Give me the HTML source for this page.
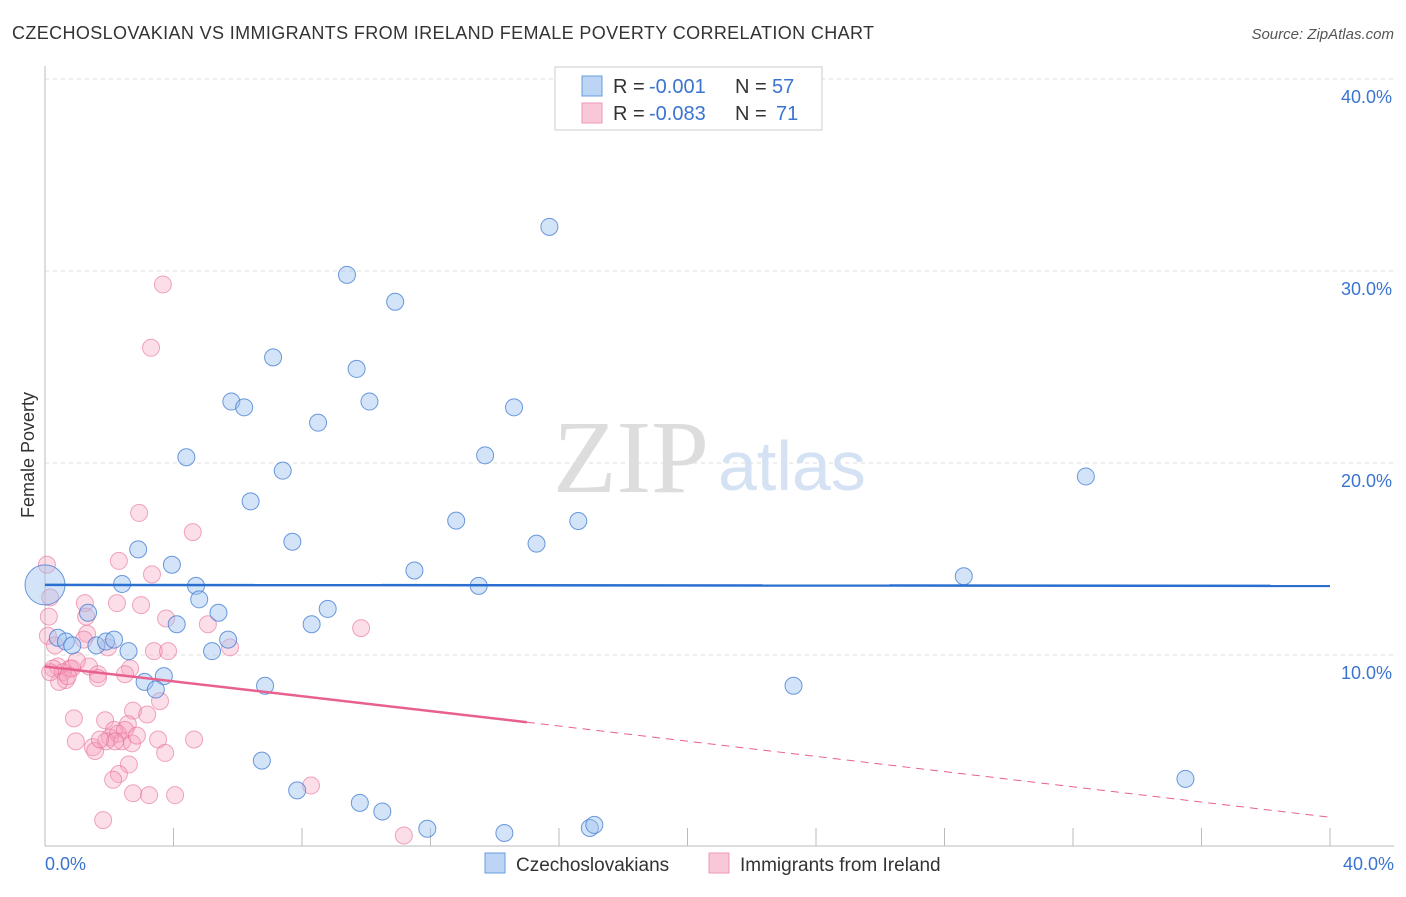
<!DOCTYPE html>
<html><head><meta charset="utf-8"><style>
body{margin:0;background:#fff;font-family:"Liberation Sans",sans-serif;}
</style></head><body>
<svg width="1406" height="892" xmlns="http://www.w3.org/2000/svg">
<text x="12" y="39" font-size="18" fill="#333" textLength="862">CZECHOSLOVAKIAN VS IMMIGRANTS FROM IRELAND FEMALE POVERTY CORRELATION CHART</text>
<text x="1394" y="39" font-size="15" fill="#555" font-style="italic" text-anchor="end">Source: ZipAtlas.com</text>
<g id="grid"></g>
<text x="553" y="492" font-size="104" fill="#ddd" font-family="Liberation Serif,serif">ZIP</text>
<text x="718" y="490" font-size="70" fill="#d4e2f4">atlas</text>
<g id="pts"></g>
<g id="lines"></g>
<text x="34" y="455" font-size="18" fill="#333" transform="rotate(-90 34 455)" text-anchor="middle">Female Poverty</text>
<text x="45" y="870" font-size="18" fill="#3a74d0">0.0%</text>
<text x="1394" y="870" font-size="18" fill="#3a74d0" text-anchor="end">40.0%</text>
<g>
<rect x="555" y="67" width="267" height="63" fill="#fff" stroke="#ccc"/>
<rect x="582" y="76" width="20" height="20" fill="#bcd5f5" stroke="#6a9be0"/>
<rect x="582" y="103" width="20" height="20" fill="#f9c8d8" stroke="#ee99b5"/>
<text x="613" y="93" font-size="20" fill="#333">R =</text>
<text x="649" y="93" font-size="20" fill="#3a74d0">-0.001</text>
<text x="735" y="93" font-size="20" fill="#333">N =</text>
<text x="772" y="93" font-size="20" fill="#3a74d0">57</text>
<text x="613" y="120" font-size="20" fill="#333">R =</text>
<text x="649" y="120" font-size="20" fill="#3a74d0">-0.083</text>
<text x="735" y="120" font-size="20" fill="#333">N =</text>
<text x="776" y="120" font-size="20" fill="#3a74d0">71</text>
</g>
<g>
<rect x="485" y="853" width="20" height="20" fill="#bcd5f5" stroke="#6a9be0"/>
<text x="516" y="871" font-size="19" fill="#333">Czechoslovakians</text>
<rect x="709" y="853" width="20" height="20" fill="#f9c8d8" stroke="#ee99b5"/>
<text x="740" y="871" font-size="19" fill="#333">Immigrants from Ireland</text>
</g>
</svg>
<script>
const yTicks=[10,20,30,40];
const xTickCount=10;
const blueX=[15.7,9.4,10.9,7.1,9.7,5.8,6.2,10.1,14.6,8.5,4.4,13.7,7.4,6.4,12.8,16.6,7.7,15.3,2.9,3.95,11.5,28.6,2.4,4.7,13.5,4.8,8.8,5.4,8.3,4.1,0.4,0.65,0.85,1.6,1.9,2.15,5.7,2.6,5.2,3.1,3.7,3.45,6.85,23.3,32.4,6.75,7.85,9.8,10.5,11.9,14.3,16.96,17.1,35.5,0,1.34];
const blueY=[32.3,29.8,28.4,25.5,24.9,23.2,22.9,23.2,22.9,22.1,20.3,20.4,19.6,18.0,17.0,16.98,15.9,15.8,15.5,14.7,14.4,14.1,13.7,13.6,13.6,12.9,12.4,12.2,11.6,11.6,10.9,10.7,10.5,10.5,10.7,10.8,10.8,10.2,10.2,8.6,8.9,8.2,8.4,8.4,19.3,4.5,2.95,2.3,1.85,0.95,0.73,0.99,1.15,3.55,13.65,12.2];
const pinkX=[3.67,3.3,2.93,4.6,2.3,3.33,0.06,0.16,2.24,2.99,1.24,3.77,5.07,9.84,0.12,0.09,1.28,1.31,0.31,1.21,1.96,3.39,3.83,5.76,0.4,0.25,0.78,1.37,2.65,1.65,0.56,0.65,0.44,1.65,2.49,0.84,0.99,0.71,3.58,2.74,1.87,0.9,0.96,2.58,3.18,2.15,2.02,2.27,2.49,1.49,1.56,1.9,2.4,2.71,2.86,3.52,4.64,3.74,2.61,2.3,2.12,2.74,3.24,4.05,8.28,1.81,11.17,2.18,1.71,0.16];
const pinkY=[29.3,26.0,17.4,16.4,14.9,14.2,14.7,13.0,12.7,12.6,12.7,11.9,11.6,11.4,12.0,11.0,12.0,11.1,10.5,10.8,10.4,10.2,10.2,10.4,9.4,9.3,9.3,9.4,9.3,9.0,9.1,8.7,8.6,8.8,9.0,9.3,9.7,8.9,7.6,7.1,6.6,6.7,5.5,6.4,6.9,6.1,5.7,5.9,6.1,5.2,5.0,5.5,5.5,5.4,5.8,5.6,5.6,4.9,4.3,3.8,3.5,2.8,2.7,2.7,3.2,1.4,0.6,5.5,5.6,9.1];
const blueLine=[13.65,13.6];
const pinkLine=[9.4,6.5,1.55];
const pinkSolidEnd=15;
const NS='http://www.w3.org/2000/svg';
const xs=v=>45+v*32.125, ys=v=>847-v*19.2;
const grid=document.getElementById('grid');
function mk(tag,attrs,parent){const e=document.createElementNS(NS,tag);for(const k in attrs)e.setAttribute(k,attrs[k]);parent.appendChild(e);return e;}
mk('line',{x1:45,y1:66,x2:45,y2:846,stroke:'#bbb'},grid);
mk('line',{x1:45,y1:846,x2:1394,y2:846,stroke:'#bbb'},grid);
yTicks.forEach(t=>{
 const l=mk('line',{x1:45,x2:1394,y1:ys(t),y2:ys(t),stroke:'#ddd','stroke-dasharray':'4,4'},grid);
 
 
 const tx=mk('text',{x:1392,y:ys(t)+24,'font-size':18,fill:'#3a74d0','text-anchor':'end'},grid);
 tx.textContent=t.toFixed(1)+'%';
 
 
});
for(let i=1;i<=xTickCount;i++){
 const t=mk('line',{x1:xs(i*4),x2:xs(i*4),y1:828,y2:846,stroke:'#bbb'},grid);
 
 
}
const pts=document.getElementById('pts');
pinkX.forEach((x,i)=>{
 const c=mk('circle',{cx:xs(x),cy:ys(pinkY[i]),r:8.5,fill:'rgba(245,160,190,0.35)',stroke:'rgba(230,110,150,0.6)','stroke-width':1},pts);
 
 
});
blueX.forEach((x,i)=>{
 const big=(x===0);
 const c=mk('circle',{cx:xs(x),cy:ys(blueY[i]),r:big?20:8.5,fill:'rgba(160,195,240,0.45)',stroke:'rgba(60,120,210,0.75)','stroke-width':1},pts);
 
 
});
const lines=document.getElementById('lines');
const bl=mk('line',{x1:xs(0),y1:ys(blueLine[0]),x2:xs(40),y2:ys(blueLine[1]),stroke:'#2a6fd0','stroke-width':2.5},lines);


const pl=mk('line',{x1:xs(0),y1:ys(pinkLine[0]),x2:xs(pinkSolidEnd),y2:ys(pinkLine[1]),stroke:'#e8608e','stroke-width':2.5},lines);


const pd=mk('line',{x1:xs(pinkSolidEnd),y1:ys(pinkLine[1]),x2:xs(40),y2:ys(pinkLine[2]),stroke:'#e8608e','stroke-width':1,'stroke-dasharray':'8,6'},lines);


</script>
</body></html>
